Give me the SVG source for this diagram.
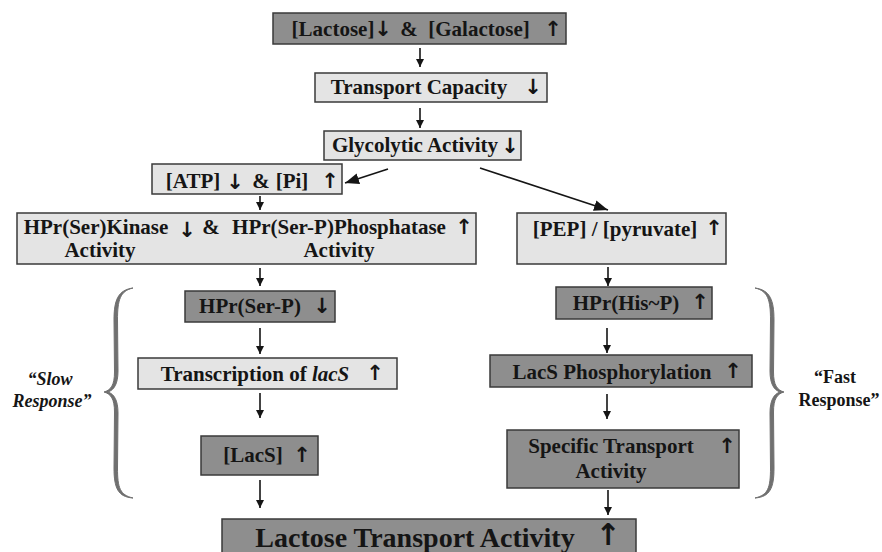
<svg xmlns="http://www.w3.org/2000/svg" width="882" height="552" viewBox="0 0 882 552">
<defs>
<style>
.dark{fill:#8e8e8e;stroke:#3a3a3a;stroke-width:1.5}
.light{fill:#e4e4e4;stroke:#3a3a3a;stroke-width:1.5}
.t{font-family:"Liberation Serif","Times New Roman",serif;font-weight:bold;font-size:21px;fill:#151515;text-anchor:middle}
.big{font-size:28px}
.ar{font-family:"DejaVu Sans",sans-serif;font-weight:bold;font-size:21px;fill:#151515;text-anchor:middle}
.arbig{font-size:30px}
.c{stroke:#151515;stroke-width:1.6;fill:none}
.brace{fill:#707070;stroke:#707070;stroke-width:1;stroke-linejoin:round}
.lbl{font-family:"Liberation Serif","Times New Roman",serif;font-weight:bold;font-size:18px;fill:#151515;text-anchor:middle}
.it{font-style:italic}
</style>
<marker id="sm" markerUnits="userSpaceOnUse" markerWidth="9" markerHeight="9" refX="8" refY="4" orient="auto"><path d="M0,0 L8,4 L0,8 z" fill="#151515"/></marker>
<marker id="bg" markerUnits="userSpaceOnUse" markerWidth="15" markerHeight="12" refX="14" refY="5.5" orient="auto"><path d="M0,0 L14,5.5 L0,11 z" fill="#151515"/></marker>
</defs>

<g id="connectors">
<line class="c" x1="420" y1="48" x2="420" y2="67" marker-end="url(#sm)"/>
<line class="c" x1="420" y1="108" x2="420" y2="128" marker-end="url(#sm)"/>
<line class="c" x1="388" y1="169" x2="345" y2="183" stroke-width="2" marker-end="url(#bg)"/>
<line class="c" x1="480" y1="168" x2="608" y2="210" stroke-width="2" marker-end="url(#bg)"/>
<line class="c" x1="260" y1="196" x2="260" y2="210" marker-end="url(#sm)"/>
<line class="c" x1="260" y1="268" x2="260" y2="286" marker-end="url(#sm)"/>
<line class="c" x1="608" y1="267" x2="608" y2="286" marker-end="url(#sm)"/>
<line class="c" x1="260" y1="328" x2="260" y2="354" marker-end="url(#sm)"/>
<line class="c" x1="260" y1="393" x2="260" y2="418" marker-end="url(#sm)"/>
<line class="c" x1="260" y1="480" x2="260" y2="508" marker-end="url(#sm)"/>
<line class="c" x1="607" y1="328" x2="607" y2="353" marker-end="url(#sm)"/>
<line class="c" x1="607" y1="394" x2="607" y2="419" marker-end="url(#sm)"/>
<line class="c" x1="608" y1="490" x2="608" y2="515" marker-end="url(#sm)"/>
</g>

<g id="lactose-galactose">
<rect class="dark" x="273" y="13" width="293" height="31"/>
<text class="t" x="333" y="36">[Lactose]</text>
<text class="ar" x="383" y="36">↓</text>
<text class="t" x="409" y="36">&amp;</text>
<text class="t" x="479" y="36">[Galactose]</text>
<text class="ar" x="553" y="36">↑</text>
</g>

<g id="transport-capacity">
<rect class="light" x="315" y="73" width="232" height="29"/>
<text class="t" x="419" y="94">Transport Capacity</text>
<text class="ar" x="533" y="94">↓</text>
</g>

<g id="glycolytic">
<rect class="light" x="324" y="131" width="197" height="29"/>
<text class="t" x="415" y="152">Glycolytic Activity</text>
<text class="ar" x="510" y="153">↓</text>
</g>

<g id="atp-pi">
<rect class="light" x="152" y="164" width="190" height="30"/>
<text class="t" x="193" y="188">[ATP]</text>
<text class="ar" x="235" y="189">↓</text>
<text class="t" x="261" y="188">&amp;</text>
<text class="t" x="292" y="188">[Pi]</text>
<text class="ar" x="330" y="188">↑</text>
</g>

<g id="kinase-phosphatase">
<rect class="light" x="17" y="213" width="459" height="51"/>
<text class="t" x="96" y="234">HPr(Ser)Kinase</text>
<text class="ar" x="187" y="237">↓</text>
<text class="t" x="211" y="234">&amp;</text>
<text class="t" x="339" y="234">HPr(Ser-P)Phosphatase</text>
<text class="ar" x="464" y="234">↑</text>
<text class="t" x="100" y="257">Activity</text>
<text class="t" x="339" y="257">Activity</text>
</g>

<g id="pep-pyruvate">
<rect class="light" x="517" y="213" width="209" height="51"/>
<text class="t" x="615" y="236">[PEP] / [pyruvate]</text>
<text class="ar" x="714" y="235">↑</text>
</g>

<g id="hpr-ser-p">
<rect class="dark" x="185" y="291" width="150" height="31"/>
<text class="t" x="250" y="313">HPr(Ser-P)</text>
<text class="ar" x="322" y="313">↓</text>
</g>

<g id="transcription">
<rect class="light" x="138" y="358" width="259" height="31"/>
<text class="t" x="255" y="381">Transcription of <tspan class="it">lacS</tspan></text>
<text class="ar" x="375" y="380">↑</text>
</g>

<g id="lacs">
<rect class="dark" x="201" y="436" width="117" height="39"/>
<text class="t" x="253" y="462">[LacS]</text>
<text class="ar" x="302" y="462">↑</text>
</g>

<g id="hpr-his-p">
<rect class="dark" x="556" y="287" width="156" height="32"/>
<text class="t" x="626" y="310">HPr(His~P)</text>
<text class="ar" x="700" y="309">↑</text>
</g>

<g id="lacs-phosphorylation">
<rect class="dark" x="490" y="355" width="262" height="32"/>
<text class="t" x="612" y="379">LacS Phosphorylation</text>
<text class="ar" x="733" y="378">↑</text>
</g>

<g id="specific-transport">
<rect class="dark" x="507" y="430" width="232" height="58"/>
<text class="t" x="611" y="453">Specific Transport</text>
<text class="ar" x="727" y="453">↑</text>
<text class="t" x="611" y="478">Activity</text>
</g>

<g id="lactose-transport">
<rect class="dark" x="222" y="519" width="414" height="40"/>
<text class="t big" x="415" y="547">Lactose Transport Activity</text>
<text class="ar arbig" x="608" y="545">↑</text>
</g>

<g id="slow-response">
<path class="brace" d="M133,288 C118,290 114,300 114,320 L114.5,372 C114.5,385 111,390 104,392 C111,394 114.5,399 114.5,412 L114,468 C114,488 118,497 133,498 C120,495 117.5,488 117.5,468 L118,413 C118,400 114,394 108,392 C114,390 118,384 118,371 L117.5,320 C117.5,300 120,291 133,288 Z"/>
<text class="lbl it" x="50" y="385">“Slow</text>
<text class="lbl it" x="52" y="407">Response”</text>
</g>

<g id="fast-response">
<path class="brace" d="M755,288 C770,290 774,300 774,320 L773.5,372 C773.5,385 777,390 784,392 C777,394 773.5,399 773.5,412 L774,468 C774,488 770,497 755,498 C768,495 770.5,488 770.5,468 L770,413 C770,400 774,394 780,392 C774,390 770,384 770,371 L770.5,320 C770.5,300 768,291 755,288 Z"/>
<text class="lbl" x="835" y="383">“Fast</text>
<text class="lbl" x="839" y="406">Response”</text>
</g>
</svg>
